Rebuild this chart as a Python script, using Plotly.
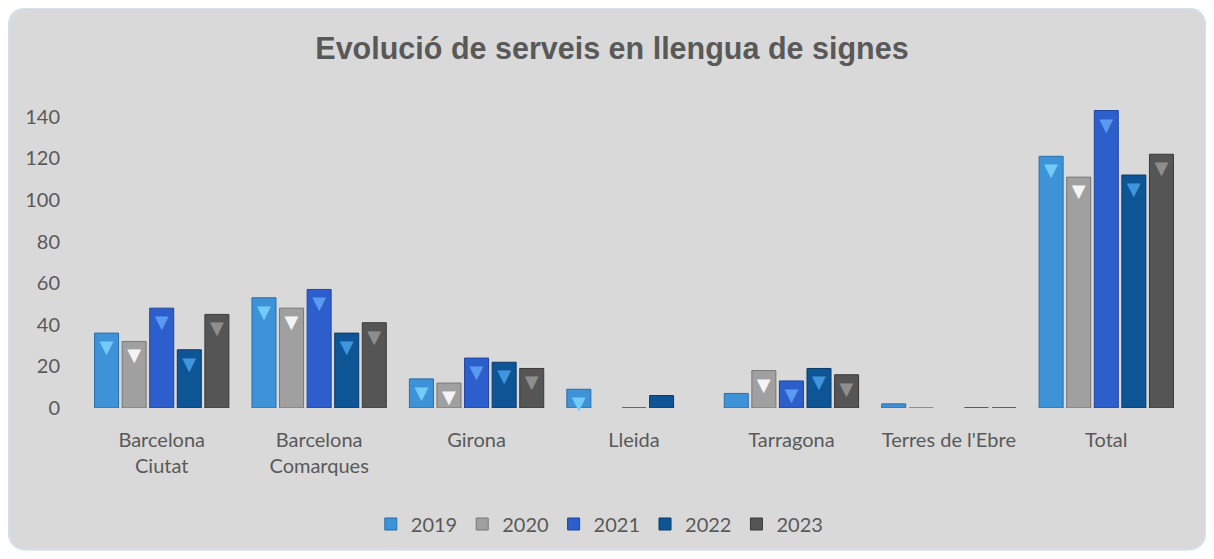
import plotly.graph_objects as go

categories = ["Barcelona<br>Ciutat", "Barcelona<br>Comarques", "Girona", "Lleida",
              "Tarragona", "Terres de l'Ebre", "Total"]
years = ["2019", "2020", "2021", "2022", "2023"]
v2019 = [36, 53, 14, 9, 7, 2, 121]
v2020 = [32, 48, 12, None, 18, 0, 111]
v2021 = [48, 57, 24, 0, 13, None, 143]
v2022 = [28, 36, 22, 6, 19, 0, 112]
v2023 = [45, 41, 19, None, 16, 0, 122]
series = [v2019, v2020, v2021, v2022, v2023]
tick_vals = [0, 20, 40, 60, 80, 100, 120, 140]

colors = ["#3d92d8", "#a0a0a0", "#2c5fcb", "#0e5596", "#555555"]
tops = ["#72cbf8", "#f4f4f4", "#5a9af0", "#4096dc", "#8e8e8e"]
edges = ["#2a6fa8", "#777777", "#1f45a0", "#083a6a", "#3a3a3a"]

FONT = "Lato, Open Sans, sans-serif"

fig = go.Figure()
for y, vals, c, t, e in zip(years, series, colors, tops, edges):
    fig.add_trace(go.Bar(
        name=y, x=categories, y=vals,
        marker=dict(color=c, line=dict(color=e, width=1)),
        text=["▼" if (v is not None and v >= 9) else "" for v in vals],
        textposition="inside", insidetextanchor="end", constraintext="none",
        textangle=0,
        textfont=dict(color=t, size=18, family="DejaVu Sans"),
        cliponaxis=False, hoverinfo="x+y",
    ))

fig.update_layout(
    width=1198, height=543,
    paper_bgcolor="white", plot_bgcolor="rgba(0,0,0,0)",
    margin=dict(l=75, r=21, t=88, b=143, autoexpand=False),
    barmode="group", bargap=0.124, bargroupgap=0.13,
    title=dict(text="<b>Evolució de serveis en llengua de signes</b>",
               x=0.48, xanchor="center", xref="paper", y=1 - 40 / 543, yanchor="middle",
               font=dict(family="Liberation Sans, Arial", size=30.5, color="#595959")),
    font=dict(family=FONT, color="#595959", size=20),
    legend=dict(orientation="h", xref="container", yref="container",
                x=0.494, xanchor="center", y=1 - 516 / 543, yanchor="middle",
                font=dict(size=20, color="#595959", family=FONT), bgcolor="rgba(0,0,0,0)",
                itemwidth=30, tracegroupgap=0),
    shapes=[dict(type="path", xref="paper", yref="paper", layer="below",
                 path="M -0.068,-0.39 L -0.068,1.218 Q -0.068,1.282 -0.05,1.282 L 1.001,1.282 "
                      "Q 1.019,1.282 1.019,1.218 L 1.019,-0.39 Q 1.019,-0.455 1.001,-0.455 "
                      "L -0.05,-0.455 Q -0.068,-0.455 -0.068,-0.39 Z",
                 fillcolor="#d9d9d9", line=dict(color="#d3e2f2", width=1.5))],
)
fig.update_xaxes(showgrid=False, showline=False, zeroline=False, ticks="",
                 ticklabelstandoff=18, automargin=False,
                 tickfont=dict(size=20, color="#595959", family=FONT))
fig.update_yaxes(range=[0, 150], tickvals=tick_vals, showgrid=False, showline=False,
                 zeroline=False, ticks="", ticklabelstandoff=22, automargin=False,
                 tickfont=dict(size=20, color="#595959", family=FONT))

fig.write_html("out.html")
